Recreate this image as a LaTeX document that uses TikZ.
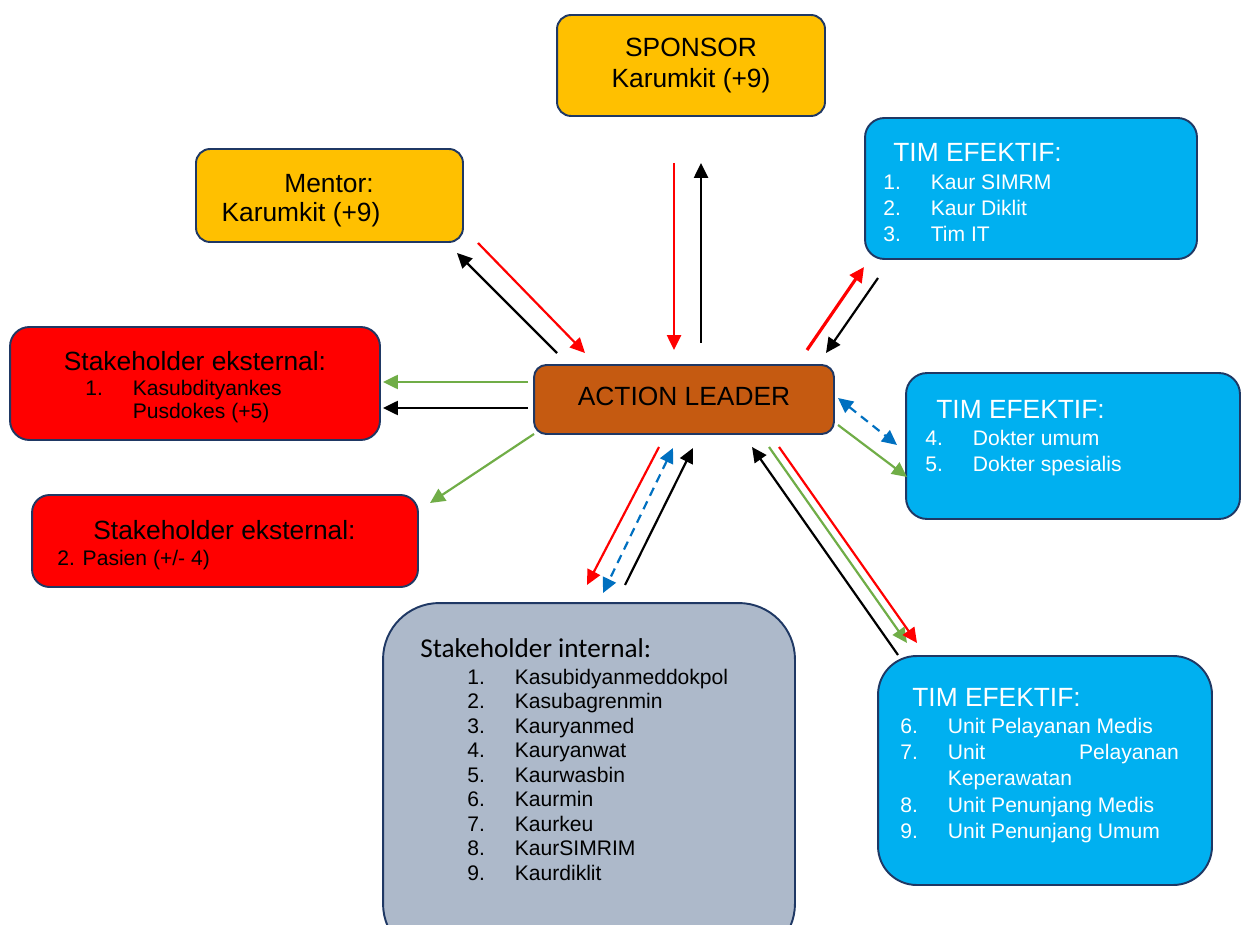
\documentclass[tikz,border=0pt]{standalone}
\usepackage{fontspec}
\setmainfont{Liberation Sans}
\newfontfamily\calibri{Carlito}
\usetikzlibrary{arrows.meta,positioning}
\definecolor{cgold}{RGB}{255,192,0}
\definecolor{ccyan}{RGB}{0,176,240}
\definecolor{cred}{RGB}{255,0,0}
\definecolor{cbrown}{RGB}{197,90,17}
\definecolor{cslate}{RGB}{173,185,202}
\definecolor{cnavy}{RGB}{31,56,100}
\definecolor{cgreen}{RGB}{112,173,71}
\definecolor{cblue}{RGB}{0,112,192}
\newcommand{\itm}[2]{\makebox[0.95cm][l]{#1}#2}
\tikzset{
  box/.style={rectangle, rounded corners=8pt,
    draw=cnavy, fill=#1, line width=1.1pt, inner sep=0pt},
  head/.style={font=\fontsize{15}{17.6}\selectfont, inner sep=0pt},
  % lists are placed by the baseline of their last line
  list/.style={font=\fontsize{12}{14.7}\selectfont, inner sep=0pt,
    align=left, anchor=base west},
  arr/.style={-{Triangle[length=8.5pt,width=8pt]}, line width=1.25pt, color=#1},
  arr/.default=black,
  biarr/.style={{Triangle[length=8.5pt,width=8pt]}-{Triangle[length=8.5pt,width=8pt]},
    line width=1.25pt, dash pattern=on 5pt off 3.5pt, color=#1}
}
\begin{document}
\begin{tikzpicture}[x=0.02cm, y=-0.02cm]
  \useasboundingbox (0,0) rectangle (1243,925);
  % boxes
  \node[box=cgold, minimum width=5.36cm, minimum height=2.02cm] (spon) at (691,65.5) {};
  \node[box=cgold, minimum width=5.34cm, minimum height=1.86cm] (mentor) at (329.5,195.5) {};
  \node[box=ccyan, rounded corners=11pt, minimum width=6.64cm, minimum height=2.82cm] (tim1) at (1031,188.5) {};
  \node[box=cred, rounded corners=11pt, minimum width=7.4cm, minimum height=2.26cm] (ext1) at (195,383.5) {};
  \node[box=cbrown, rounded corners=7pt, minimum width=6cm, minimum height=1.38cm] (lead) at (684,399.5) {};
  \node[box=ccyan, rounded corners=12pt, minimum width=6.68cm, minimum height=2.92cm] (tim2) at (1073,446) {};
  \node[box=cred, rounded corners=10pt, minimum width=7.72cm, minimum height=1.84cm] (ext2) at (225,541) {};
  \node[box=cslate, rounded corners=32pt, minimum width=8.24cm, minimum height=7.14cm] (intl) at (589,781.5) {};
  \node[box=ccyan, rounded corners=22pt, minimum width=6.68cm, minimum height=4.58cm] (tim3) at (1045,770.5) {};

  % texts
  \node[head, anchor=base] (leadA) at (684,405.5) {ACTION LEADER};
  \node[head, anchor=base] (sponA) at (691,56.5) {SPONSOR};
  \node[head, anchor=base] (sponB) at (691,87.5) {Karumkit (+9)};
  \node[head, anchor=base] (mentorA) at (329,192.5) {Mentor:};
  \node[head, anchor=base] (mentorB) at (301,222) {Karumkit (+9)};
  \node[head, text=white, anchor=base west] (tim1A) at (893,162) {TIM EFEKTIF:};
  \node[list, text=white] (tim1B) at (883,241.5)
    {\itm{1.}{Kaur SIMRM}\\\itm{2.}{Kaur Diklit}\\\itm{3.}{Tim IT}};
  \node[head, anchor=base] (ext1A) at (195,370.5) {Stakeholder eksternal:};
  \node[list, font=\fontsize{12}{13}\selectfont] (ext1B) at (85,418.5)
    {\itm{1.}{Kasubdityankes}\\\itm{}{Pusdokes (+5)}};
  \node[head, text=white, anchor=base west] (tim2A) at (936,418.5) {TIM EFEKTIF:};
  \node[list, text=white] (tim2B) at (925,471.5)
    {\itm{4.}{Dokter umum}\\\itm{5.}{Dokter spesialis}};
  \node[head, anchor=base] (ext2A) at (224.5,539.5) {Stakeholder eksternal:};
  \node[list] (ext2B) at (57,565.5) {2. Pasien (+/- 4)};
  \node[font=\calibri\fontsize{15.5}{18}\selectfont, inner sep=0pt, anchor=base west] (intlA) at (420,657) {Stakeholder internal:};
  \node[list, font=\fontsize{12}{13.95}\selectfont] (intlB) at (467,880.3)
    {\itm{1.}{Kasubidyanmeddokpol}\\\itm{2.}{Kasubagrenmin}\\\itm{3.}{Kauryanmed}\\
     \itm{4.}{Kauryanwat}\\\itm{5.}{Kaurwasbin}\\\itm{6.}{Kaurmin}\\
     \itm{7.}{Kaurkeu}\\\itm{8.}{KaurSIMRIM}\\\itm{9.}{Kaurdiklit}};
  \node[head, text=white, anchor=base west] (tim3A) at (912,706) {TIM EFEKTIF:};
  \node[list, text=white, font=\fontsize{12}{15}\selectfont] (tim3B) at (900,838.5)
    {\itm{6.}{Unit Pelayanan Medis}\\\itm{7.}{\makebox[4.62cm][s]{Unit\hfill Pelayanan}}\\
     \itm{}{Keperawatan}\\\itm{8.}{Unit Penunjang Medis}\\\itm{9.}{Unit Penunjang Umum}};

  % arrow ends
  \coordinate (mtrA) at (557,353); \coordinate (mtrB) at (457,253);
  \coordinate (mtrC) at (478,243); \coordinate (mtrD) at (585,353);
  \coordinate (sponC) at (674,163); \coordinate (sponD) at (674,350);
  \coordinate (sponE) at (701,343); \coordinate (sponF) at (701,163);
  \coordinate (tim1C) at (807,350); \coordinate (tim1D) at (864,267);
  \coordinate (tim1E) at (878,278); \coordinate (tim1F) at (826,353);
  \coordinate (ext1C) at (528,382); \coordinate (ext1D) at (383,382);
  \coordinate (ext1E) at (528,408); \coordinate (ext1F) at (383,408);
  \coordinate (ext2C) at (534,434); \coordinate (ext2D) at (430,503);
  \coordinate (tim2C) at (838,398); \coordinate (tim2D) at (897,445);
  \coordinate (tim2E) at (838,425); \coordinate (tim2F) at (907,477);
  \coordinate (intlC) at (659,447); \coordinate (intlD) at (587,585);
  \coordinate (intlE) at (673,448); \coordinate (intlF) at (603,593);
  \coordinate (intlG) at (625,585); \coordinate (intlH) at (693,448);
  \coordinate (tim3C) at (898,655); \coordinate (tim3D) at (752,447);
  \coordinate (tim3E) at (769,447); \coordinate (tim3F) at (907,643);
  \coordinate (tim3G) at (779,447); \coordinate (tim3H) at (917,643);

  % arrows
  \draw[arr]        (mtrA)  -- (mtrB);
  \draw[arr=cred]   (mtrC)  -- (mtrD);
  \draw[arr=cred]   (sponC) -- (sponD);
  \draw[arr]        (sponE) -- (sponF);
  \draw[arr=cred, line width=1.8pt] (tim1C) -- (tim1D);
  \draw[arr]        (tim1E) -- (tim1F);
  \draw[arr=cgreen] (ext1C) -- (ext1D);
  \draw[arr]        (ext1E) -- (ext1F);
  \draw[arr=cgreen] (ext2C) -- (ext2D);
  \draw[biarr=cblue] (tim2C) -- (tim2D);
  \draw[arr=cgreen] (tim2E) -- (tim2F);
  \draw[arr=cred]   (intlC) -- (intlD);
  \draw[biarr=cblue] (intlE) -- (intlF);
  \draw[arr]        (intlG) -- (intlH);
  \draw[arr]        (tim3C) -- (tim3D);
  \draw[arr=cgreen] (tim3E) -- (tim3F);
  \draw[arr=cred]   (tim3G) -- (tim3H);
\end{tikzpicture}
\end{document}
